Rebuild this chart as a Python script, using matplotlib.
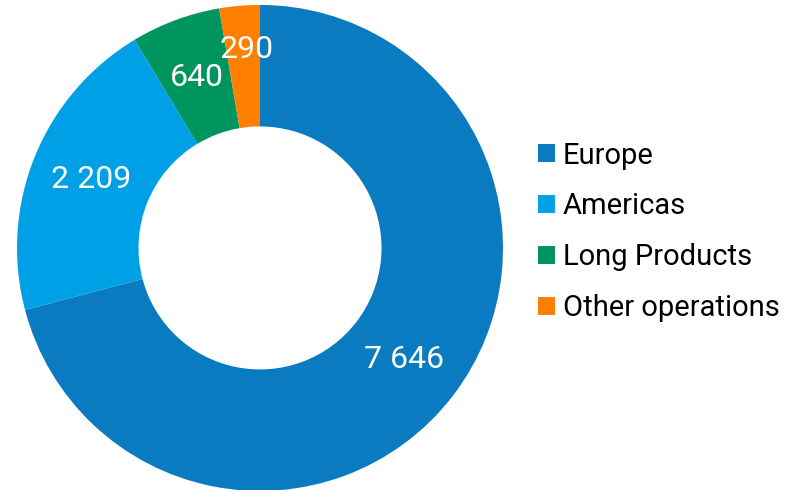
import matplotlib.pyplot as plt
import numpy as np

segments = ["Europe", "Americas", "Long Products", "Other operations"]
values = [7646, 2209, 640, 290]
value_labels = ["7 646", "2 209", "640", "290"]
colors = ["#0A7BC1", "#00A0E6", "#00955E", "#FF7F00"]

plt.rcParams['font.family'] = ['Roboto', 'DejaVu Sans']

fig = plt.figure(figsize=(8.02, 4.9), dpi=100)
ax = fig.add_axes([0.0212, -0.002, 0.606, 0.992])

wedges, _ = ax.pie(values, colors=colors, startangle=90, counterclock=False,
                   radius=1.0, wedgeprops=dict(width=0.5, linewidth=0))

# value labels in the middle of the ring
total = sum(values)
start = 90.0
for i, (w, lab) in enumerate(zip(wedges, value_labels)):
    span = values[i] / total * 360
    mid = np.deg2rad(start - span / 2)
    r = 0.75
    if i == 3:
        # small slice label nudged up and left like the original
        mid = np.deg2rad(94)
        r = 0.82
    ax.text(r * np.cos(mid), r * np.sin(mid), lab, ha="center", va="center",
            color="white", fontsize=23)
    start -= span

ax.set_xlim(-1, 1)
ax.set_ylim(-1, 1)
ax.set_aspect("equal")
ax.axis("off")

fig.legend(wedges, segments, loc="center left", bbox_to_anchor=(0.638, 0.527),
           frameon=False, fontsize=21, handlelength=0.58, handleheight=0.58,
           handletextpad=0.28, labelspacing=0.78)

plt.savefig("out.png", dpi=100)
